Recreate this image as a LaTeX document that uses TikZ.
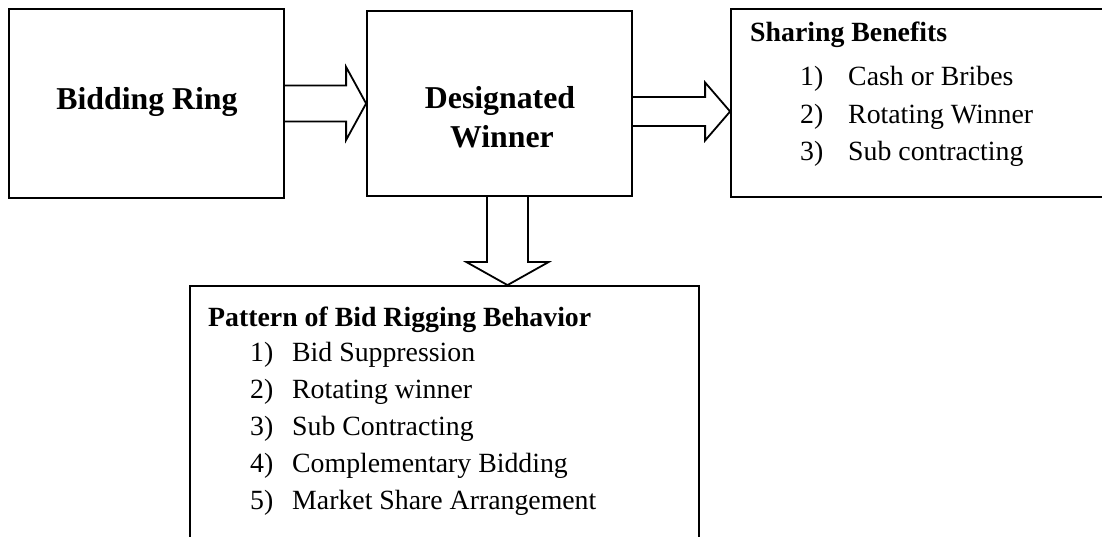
\documentclass[tikz,border=0pt]{standalone}
\usepackage{fontspec}
\setmainfont{Liberation Serif}
\usetikzlibrary{calc}
\begin{document}
\begin{tikzpicture}[x=1pt,y=1pt,
  box/.style={draw,line width=1.8pt,rectangle,inner sep=0pt},
  blockarrow/.style={draw,line width=1.8pt,line join=miter},
  bigtxt/.style={font=\fontsize{31.8}{36}\selectfont\bfseries,inner sep=0pt,anchor=base},
  headtxt/.style={font=\fontsize{27.8}{32}\selectfont\bfseries,inner sep=0pt,anchor=base west},
  itemtxt/.style={font=\fontsize{27.8}{32}\selectfont,inner sep=0pt,anchor=base west}]
\useasboundingbox (0,0) rectangle (1102,536);
\clip (0,0) rectangle (1102,536);

% boxes
\node[box,minimum width=275pt,minimum height=189pt] (ring) at (146.5,432.5) {};
\node[box,minimum width=265pt,minimum height=185pt] (winner) at (499.5,432.5) {};
\node[box,minimum width=385pt,minimum height=188pt] (share) at (923.5,433) {};
\node[box,minimum width=509pt,minimum height=260pt] (pattern) at (444.5,120) {};

% box titles
\node[bigtxt] (ringtxt) at (147,426) {Bidding Ring};
\node[bigtxt] (wintxtA) at (500,427) {Designated};
\node[bigtxt] (wintxtB) at (502,388) {Winner};

% benefits list
\node[headtxt] (sharehead) at (750,494.3) {Sharing Benefits};
\node[itemtxt] (sn1) at (800,450) {1)};
\node[itemtxt] (st1) at (848,450) {Cash or Bribes};
\node[itemtxt] (sn2) at (800,412.5) {2)};
\node[itemtxt] (st2) at (848,412.5) {Rotating Winner};
\node[itemtxt] (sn3) at (800,375) {3)};
\node[itemtxt] (st3) at (848,375) {Sub contracting};

% behaviour list
\node[headtxt] (pathead) at (208,209.3) {Pattern of Bid Rigging Behavior};
\node[itemtxt] (pn1) at (250,174.3) {1)};
\node[itemtxt] (pt1) at (292,174.3) {Bid Suppression};
\node[itemtxt] (pn2) at (250,138) {2)};
\node[itemtxt] (pt2) at (292,138) {Rotating winner};
\node[itemtxt] (pn3) at (250,100.3) {3)};
\node[itemtxt] (pt3) at (292,100.3) {Sub Contracting};
\node[itemtxt] (pn4) at (250,64) {4)};
\node[itemtxt] (pt4) at (292,64) {Complementary Bidding};
\node[itemtxt] (pn5) at (250,27) {5)};
\node[itemtxt] (pt5) at (292,27) {Market Share Arrangement};

% block arrow: ring -> winner
\draw[blockarrow]
  ($(ring.east)+(0,18)$) -- ($(winner.west)+(-20,18)$) -- ($(winner.west)+(-20,36.5)$)
  -- (winner.west)
  -- ($(winner.west)+(-20,-36.5)$) -- ($(winner.west)+(-20,-18)$) -- ($(ring.east)+(0,-18)$);

% block arrow: winner -> share
\coordinate (a2s) at ($(winner.east)+(0,-8)$);
\coordinate (a2t) at (share.west |- a2s);
\draw[blockarrow]
  ($(a2s)+(0,14.5)$) -- ($(a2t)+(-25,14.5)$) -- ($(a2t)+(-25,29)$)
  -- (a2t)
  -- ($(a2t)+(-25,-29)$) -- ($(a2t)+(-25,-14.5)$) -- ($(a2s)+(0,-14.5)$);

% block arrow: winner -> pattern
\coordinate (a3s) at ($(winner.south)+(8,0)$);
\coordinate (a3t) at (a3s |- pattern.north);
\draw[blockarrow]
  ($(a3s)+(-20.5,0)$) -- ($(a3t)+(-20.5,23)$) -- ($(a3t)+(-41,23)$)
  -- (a3t)
  -- ($(a3t)+(41,23)$) -- ($(a3t)+(20.5,23)$) -- ($(a3s)+(20.5,0)$);
\end{tikzpicture}
\end{document}
